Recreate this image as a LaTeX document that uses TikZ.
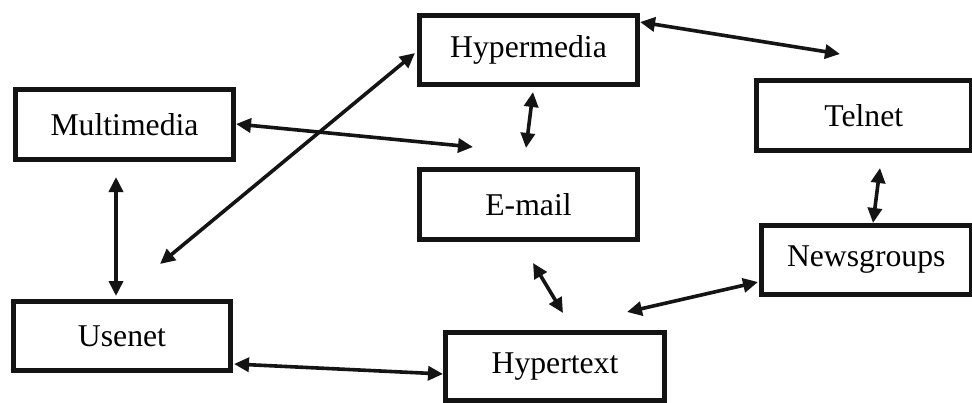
\documentclass[tikz,border=0pt]{standalone}
\usepackage{fontspec}
\setmainfont{Liberation Serif}
\usetikzlibrary{arrows.meta}
\begin{document}
\begin{tikzpicture}[x=1pt,y=-1pt,
  box/.style={draw=black!92,line width=5pt,rectangle,inner sep=0pt,
    font=\fontsize{31.7}{38}\selectfont},
  link/.style={draw=black!92,line width=3.6pt,
    {Triangle[length=15pt,width=14pt]}-{Triangle[length=15pt,width=14pt]},shorten <=0pt,shorten >=0pt}]
\clip (0,0) rectangle (972,402);
\fill[white] (0,0) rectangle (972,402);
\node[box,minimum width=218pt,minimum height=70pt] (mm) at (124.5,124.5) {Multimedia};
\node[box,minimum width=218pt,minimum height=69pt] (hm) at (528.5,50) {Hypermedia};
\node[box,minimum width=214.5pt,minimum height=70pt] (tn) at (863.75,115.5) {Telnet};
\node[box,minimum width=218pt,minimum height=70pt] (em) at (528.5,204.5) {E-mail};
\node[box,minimum width=217pt,minimum height=69pt] (us) at (122,336) {Usenet};
\node[box,minimum width=219pt,minimum height=67.5pt] (ht) at (555,366.25) {Hypertext};
\node[box,minimum width=209.5pt,minimum height=69pt] (ng) at (866.25,260) {Newsgroups};
% free ends
\coordinate (mmE) at (236,124);   \coordinate (emW) at (473,147);
\coordinate (usD) at (160,264);   \coordinate (hmD) at (415,53);
\coordinate (mmS) at (116,177);   \coordinate (usN) at (116,296);
\coordinate (hmS) at (533,92);    \coordinate (emN) at (526,148);
\coordinate (hmE) at (640,22);    \coordinate (tnN) at (840,54);
\coordinate (tnS) at (880,168);   \coordinate (ngN) at (873,223);
\coordinate (emS) at (533,263);   \coordinate (htN) at (563,313);
\coordinate (htE) at (627,312);   \coordinate (ngW) at (758,282);
\coordinate (usE) at (234,364);   \coordinate (htW) at (443,374);
\draw[link] (mmE) -- (emW);
\draw[link] (usD) -- (hmD);
\draw[link] (mmS) -- (usN);
\draw[link] (hmS) -- (emN);
\draw[link] (hmE) -- (tnN);
\draw[link] (tnS) -- (ngN);
\draw[link] (emS) -- (htN);
\draw[link] (htE) -- (ngW);
\draw[link] (usE) -- (htW);
\end{tikzpicture}
\end{document}
